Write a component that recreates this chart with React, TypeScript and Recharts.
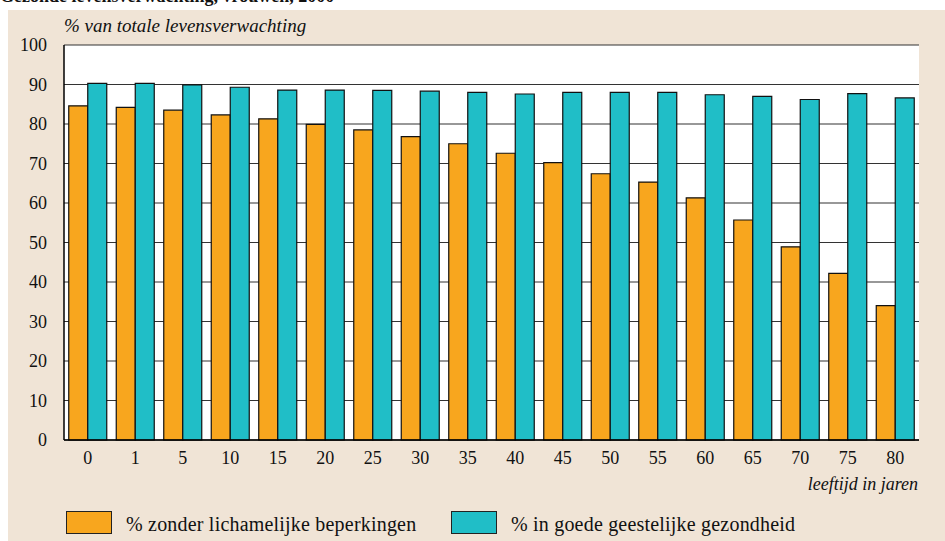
import React from "react";
import { BarChart, Bar, XAxis, YAxis, CartesianGrid } from "recharts";

const ages = ["0", "1", "5", "10", "15", "20", "25", "30", "35", "40", "45", "50", "55", "60", "65", "70", "75", "80"];
const zonderBeperkingen = [84.6, 84.2, 83.5, 82.3, 81.3, 79.9, 78.5, 76.8, 75.0, 72.6, 70.2, 67.4, 65.3, 61.3, 55.7, 48.9, 42.2, 34.0];
const geestelijkGezond = [90.3, 90.3, 89.9, 89.3, 88.6, 88.6, 88.5, 88.3, 88.0, 87.6, 88.0, 88.0, 88.0, 87.4, 87.0, 86.2, 87.7, 86.6];
const yTicks = [0, 10, 20, 30, 40, 50, 60, 70, 80, 90, 100];
const seriesNames = ["% zonder lichamelijke beperkingen", "% in goede geestelijke gezondheid"];
const title = "Gezonde levensverwachting, vrouwen, 2000";
const yTitle = "% van totale levensverwachting";
const xTitle = "leeftijd in jaren";

const ORANGE = "#F8A61E";
const TEAL = "#20BEC7";
const BEIGE = "#F0E4D6";
const FONT = "'Liberation Serif', 'DejaVu Serif', serif";

const data = ages.map((a, i) => ({ age: a, zonder: zonderBeperkingen[i], geestelijk: geestelijkGezond[i] }));

const seriesColors = [ORANGE, TEAL];
const legendLefts = [66, 451];

export default function App() {
  return (
    <div style={{ position: "absolute", left: 0, top: 0, width: 945, height: 541, overflow: "hidden", background: "#fff" }}>
      <div style={{ position: "absolute", left: 8, top: 10, width: 937, height: 531, background: BEIGE }} />
      <div style={{ position: "absolute", left: 0, top: -14, fontFamily: FONT, fontWeight: "bold", fontSize: 18, color: "#111", whiteSpace: "nowrap" }}>
        {title}
      </div>
      <div style={{ position: "absolute", left: 64, top: 15, fontFamily: FONT, fontStyle: "italic", fontSize: 19, color: "#111", whiteSpace: "nowrap" }}>
        {yTitle}
      </div>
      <div style={{ position: "absolute", right: 27, top: 474, fontFamily: FONT, fontStyle: "italic", fontSize: 18, color: "#111", whiteSpace: "nowrap" }}>
        {xTitle}
      </div>
      {seriesNames.map((n, i) => (
        <div key={n} style={{ position: "absolute", left: legendLefts[i], top: 511, height: 23, display: "flex", alignItems: "center", fontFamily: FONT, fontSize: 20, letterSpacing: 0.2, color: "#111", whiteSpace: "nowrap" }}>
          <div style={{ width: 44, height: 21, background: seriesColors[i], border: "1px solid #222", marginRight: 14, flex: "none" }} />
          <span style={{ position: "relative", top: 2 }}>{n}</span>
        </div>
      ))}
      <div style={{ position: "absolute", left: 0, top: 0 }}>
        <BarChart
          width={945}
          height={541}
          data={data}
          margin={{ top: 45, right: 26, bottom: 71, left: 0 }}
          barCategoryGap="10%"
          barGap={0}
        >
          <CartesianGrid vertical={false} stroke="#333" strokeWidth={1.2} fill="#fff" fillOpacity={1} yAxisId="l" />
          <XAxis
            dataKey="age"
            height={30}
            tickSize={0}
            tickMargin={11}
            axisLine={{ stroke: "#000", strokeWidth: 1.5 }}
            tick={{ fill: "#111", fontFamily: FONT, fontSize: 18 }}
          />
          <YAxis
            yAxisId="l"
            domain={[0, 100]}
            ticks={yTicks}
            width={64}
            tickSize={0}
            tickMargin={17}
            axisLine={{ stroke: "#000", strokeWidth: 1.5 }}
            tick={{ fill: "#111", fontFamily: FONT, fontSize: 18 }}
          />
          <YAxis
            yAxisId="r"
            orientation="right"
            domain={[0, 100]}
            width={0}
            tick={false}
            tickLine={false}
            axisLine={{ stroke: "#000", strokeWidth: 1.5 }}
          />
          <Bar yAxisId="l" dataKey="zonder" name={seriesNames[0]} fill={ORANGE} stroke="#111" strokeWidth={1.2} isAnimationActive={false} />
          <Bar yAxisId="l" dataKey="geestelijk" name={seriesNames[1]} fill={TEAL} stroke="#111" strokeWidth={1.2} isAnimationActive={false} />
        </BarChart>
      </div>
    </div>
  );
}
